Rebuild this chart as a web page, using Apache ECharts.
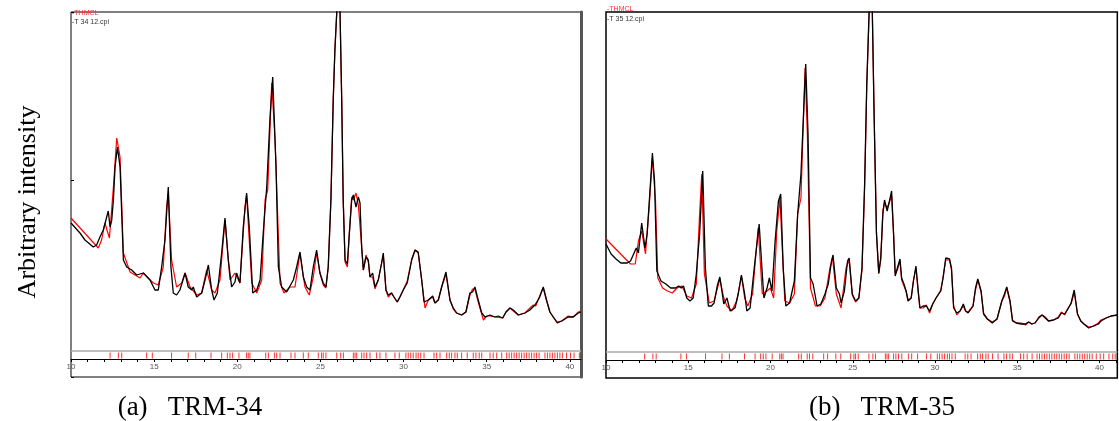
<!DOCTYPE html>
<html><head><meta charset="utf-8">
<script src="https://cdn.jsdelivr.net/npm/echarts@6/dist/echarts.min.js"></script>
<style>html,body{margin:0;padding:0;background:#fff}#c{width:1119px;height:421px}</style>
</head><body><div id="c"></div>
<script>
// 2theta (deg), arbitrary intensity
const obsA = [[10.00,154],[10.54,144],[10.84,137],[11.34,130],[11.54,132],[11.74,140],[11.94,147],[12.10,157],[12.24,166],[12.35,150],[12.45,157],[12.55,177],[12.65,210],[12.79,230],[12.95,210],[13.15,117],[13.35,110],[13.65,107],[13.95,102],[14.35,104],[14.75,97],[15.05,87],[15.25,87],[15.45,110],[15.65,137],[15.85,190],[16.01,110],[16.15,84],[16.35,82],[16.55,87],[16.86,104],[17.05,90],[17.26,87],[17.35,90],[17.56,80],[17.86,84],[18.06,97],[18.26,112],[18.46,87],[18.60,77],[18.80,84],[19.06,124],[19.26,159],[19.46,117],[19.66,90],[19.86,95],[19.96,104],[20.16,94],[20.36,150],[20.56,184],[20.72,150],[20.93,84],[21.17,87],[21.37,97],[21.56,144],[21.77,190],[21.97,260],[22.13,300],[22.33,210],[22.47,110],[22.67,90],[22.97,85],[23.37,97],[23.57,110],[23.77,125],[23.97,100],[24.17,90],[24.37,87],[24.57,110],[24.77,127],[24.97,104],[25.17,94],[25.33,90],[25.47,110],[25.63,177],[25.77,277],[25.87,327],[25.98,364],[26.07,420],[26.18,364],[26.28,277],[26.37,177],[26.48,117],[26.62,113],[26.74,144],[26.88,177],[26.98,182],[27.14,170],[27.28,180],[27.38,174],[27.48,130],[27.58,107],[27.74,120],[27.88,117],[27.98,100],[28.14,104],[28.28,90],[28.48,97],[28.68,114],[28.78,124],[28.94,87],[29.08,82],[29.28,84],[29.42,80],[29.62,75],[29.78,80],[29.98,87],[30.22,94],[30.49,117],[30.69,127],[30.88,125],[31.09,97],[31.23,75],[31.49,77],[31.75,81],[31.89,74],[32.09,77],[32.29,90],[32.55,105],[32.79,77],[32.99,69],[33.19,64],[33.49,62],[33.75,65],[33.99,84],[34.15,85],[34.29,90],[34.49,77],[34.70,64],[34.89,60],[35.20,62],[35.50,60],[35.69,61],[35.96,59],[36.16,65],[36.40,69],[36.60,67],[36.90,62],[37.30,64],[37.60,67],[37.90,72],[38.16,79],[38.40,90],[38.60,77],[38.80,65],[39.00,60],[39.24,54],[39.51,56],[39.90,60],[40.20,60],[40.51,64],[40.67,65]];
const calcA = [[10.00,159],[11.64,129],[11.84,137],[12.04,154],[12.31,139],[12.55,190],[12.75,239],[12.95,220],[13.15,124],[13.55,105],[14.15,99],[14.35,104],[14.95,94],[15.25,92],[15.55,110],[15.75,170],[15.85,184],[16.05,117],[16.35,90],[16.66,94],[16.86,104],[17.16,90],[17.56,82],[17.86,84],[18.16,107],[18.46,87],[18.66,84],[18.96,97],[19.26,157],[19.56,97],[19.86,104],[20.16,94],[20.46,170],[20.56,182],[20.87,94],[21.17,84],[21.47,97],[21.67,177],[21.83,187],[22.07,294],[22.27,237],[22.57,94],[22.81,84],[23.17,90],[23.47,90],[23.77,124],[24.07,90],[24.33,82],[24.57,100],[24.77,124],[24.97,104],[25.17,92],[25.33,89],[25.47,110],[25.63,177],[25.77,277],[25.87,327],[25.98,364],[26.07,425],[26.18,364],[26.28,277],[26.37,177],[26.48,115],[26.62,110],[26.74,144],[26.88,180],[26.98,177],[27.14,184],[27.28,172],[27.38,174],[27.48,130],[27.58,107],[27.74,122],[27.88,115],[27.98,100],[28.14,100],[28.28,88],[28.48,97],[28.68,114],[28.78,122],[28.94,87],[29.08,80],[29.28,84],[29.42,80],[29.62,75],[29.78,80],[29.98,87],[30.22,96],[30.49,118],[30.69,127],[30.88,124],[31.09,97],[31.29,69],[31.49,77],[31.75,80],[31.89,74],[32.09,77],[32.29,90],[32.55,103],[32.79,77],[32.99,68],[33.19,64],[33.49,62],[33.75,65],[33.99,82],[34.15,88],[34.29,88],[34.49,75],[34.80,57],[35.00,61],[35.20,61],[35.50,60],[35.96,59],[36.16,65],[36.40,69],[36.60,66],[36.90,62],[37.30,64],[37.60,69],[37.80,72],[37.95,71],[38.16,80],[38.40,89],[38.60,76],[38.80,65],[39.00,60],[39.24,55],[39.51,56],[39.90,61],[40.20,60],[40.51,65],[40.67,66]];
const obsB = [[10.00,134],[10.31,124],[10.61,119],[10.90,115],[11.29,115],[11.49,117],[11.68,124],[11.84,130],[11.97,125],[12.17,155],[12.37,130],[12.50,144],[12.66,184],[12.82,225],[12.95,197],[13.09,107],[13.34,97],[13.64,94],[13.93,90],[14.22,90],[14.42,92],[14.57,90],[14.71,92],[14.91,80],[15.10,77],[15.30,80],[15.49,104],[15.69,144],[15.88,207],[16.04,110],[16.22,72],[16.41,72],[16.57,75],[16.76,92],[16.92,101],[17.16,74],[17.35,80],[17.55,67],[17.84,70],[18.04,84],[18.23,103],[18.43,84],[18.56,67],[18.76,70],[19.01,110],[19.31,154],[19.50,104],[19.60,80],[19.79,90],[19.93,100],[20.09,87],[20.28,137],[20.48,177],[20.62,184],[20.77,110],[20.93,72],[21.16,75],[21.45,97],[21.65,164],[21.85,204],[22.04,277],[22.14,314],[22.28,244],[22.43,100],[22.59,94],[22.83,72],[23.06,74],[23.31,84],[23.51,94],[23.71,117],[23.80,123],[24.00,90],[24.19,84],[24.29,75],[24.49,87],[24.68,117],[24.78,120],[24.97,84],[25.17,77],[25.37,80],[25.56,110],[25.72,194],[25.85,294],[25.99,364],[26.09,430],[26.19,364],[26.30,260],[26.44,144],[26.58,105],[26.70,120],[26.83,164],[26.93,178],[27.09,167],[27.23,177],[27.36,187],[27.48,144],[27.58,102],[27.71,110],[27.87,119],[27.97,100],[28.11,94],[28.24,87],[28.36,77],[28.55,80],[28.69,97],[28.84,112],[28.98,87],[29.08,70],[29.28,72],[29.47,72],[29.67,67],[29.86,74],[30.06,80],[30.35,87],[30.49,100],[30.65,120],[30.88,119],[31.00,110],[31.13,70],[31.33,65],[31.52,67],[31.72,74],[31.86,67],[32.01,65],[32.31,72],[32.46,90],[32.60,99],[32.80,87],[32.95,64],[33.18,59],[33.48,55],[33.77,59],[34.06,77],[34.22,84],[34.36,91],[34.56,77],[34.71,57],[34.94,55],[35.24,54],[35.50,54],[35.69,56],[35.88,54],[36.08,55],[36.32,61],[36.51,63],[36.70,60],[36.90,57],[37.20,58],[37.49,60],[37.68,65],[37.88,64],[38.08,69],[38.27,75],[38.46,88],[38.66,64],[38.86,57],[39.05,54],[39.34,50],[39.64,52],[39.93,54],[40.09,57],[40.40,60],[40.70,62],[41.08,63]];
const calcB = [[10.00,139],[11.49,114],[11.78,114],[11.97,137],[12.17,147],[12.40,124],[12.62,170],[12.82,220],[13.01,177],[13.15,100],[13.44,90],[13.74,87],[14.03,85],[14.32,90],[14.61,92],[14.91,82],[15.20,80],[15.49,94],[15.69,164],[15.82,204],[15.98,104],[16.28,75],[16.57,77],[16.92,99],[17.16,80],[17.35,72],[17.64,67],[17.94,77],[18.23,102],[18.43,80],[18.62,72],[18.91,84],[19.11,124],[19.25,150],[19.50,84],[19.79,87],[19.99,90],[20.19,80],[20.38,147],[20.57,180],[20.87,77],[21.16,75],[21.45,84],[21.65,164],[21.85,180],[22.10,310],[22.24,244],[22.43,90],[22.73,72],[23.02,72],[23.31,80],[23.61,110],[23.77,120],[24.00,84],[24.29,70],[24.59,110],[24.78,118],[24.97,83],[25.17,76],[25.37,80],[25.56,108],[25.72,190],[25.85,290],[25.99,364],[26.09,428],[26.19,364],[26.30,262],[26.44,146],[26.58,104],[26.70,118],[26.83,168],[26.93,175],[27.09,170],[27.23,176],[27.36,182],[27.48,144],[27.58,104],[27.71,108],[27.87,117],[27.97,98],[28.11,92],[28.24,87],[28.36,78],[28.55,80],[28.69,98],[28.84,110],[28.98,85],[29.08,70],[29.28,70],[29.47,73],[29.67,65],[29.86,74],[30.06,80],[30.35,88],[30.49,101],[30.65,118],[30.88,118],[31.00,108],[31.13,72],[31.33,63],[31.52,67],[31.72,72],[31.86,67],[32.01,66],[32.31,72],[32.46,88],[32.60,98],[32.80,86],[32.95,65],[33.18,59],[33.48,56],[33.77,59],[34.06,77],[34.22,82],[34.36,90],[34.56,76],[34.71,58],[34.94,55],[35.24,55],[35.50,53],[35.69,56],[35.88,54],[36.08,55],[36.32,60],[36.51,63],[36.70,61],[36.90,57],[37.20,58],[37.49,61],[37.68,66],[37.88,63],[38.08,70],[38.27,74],[38.46,86],[38.66,64],[38.86,57],[39.05,54],[39.34,51],[39.64,52],[39.93,55],[40.09,58],[40.40,60],[40.70,62],[41.08,63]];
// Bragg reflection positions (2theta)
const reflections = [12.35,12.85,13.05,14.55,14.89,16.05,17.05,17.50,18.42,19.06,19.40,19.56,19.72,20.10,20.56,20.66,20.76,21.71,21.87,22.23,22.37,22.57,23.23,23.47,23.97,24.27,24.87,25.07,25.17,25.33,25.98,26.22,26.38,26.98,27.08,27.18,27.48,27.62,27.78,27.98,28.38,28.58,28.94,29.48,29.74,30.14,30.28,30.43,30.58,30.75,30.88,31.03,31.23,31.83,31.99,32.19,32.59,32.75,32.89,33.09,33.23,33.49,33.83,34.19,34.35,34.55,34.70,35.20,35.39,35.60,35.90,36.20,36.35,36.50,36.65,36.80,36.95,37.10,37.25,37.40,37.55,37.70,37.85,38.00,38.15,38.50,38.65,38.80,38.95,39.10,39.25,39.40,39.55,39.80,40.04,40.25,40.57,40.80,40.95];
const panelLabels = ['(a)   TRM-34', '(b)   TRM-35'];
const legendA = ['-THMCL', '-T 34 12.cpi'];
const legendB = ['-THMCL', '-T 35 12.cpi'];
const yTitle = 'Arbitrary intensity';

const TICK_LEVEL = 21.5, BASE_LINE = 26;
const chart = echarts.init(document.getElementById('c'));
function xAx(gi, max) {
  return {
    type: 'value', gridIndex: gi, min: 10, max: max, interval: 1, position: 'bottom', offset: -18,
    axisLine: {show: true, onZero: false, lineStyle: {color: '#000', width: 1}},
    axisTick: {show: true, length: 3, lineStyle: {color: '#000'}},
    axisLabel: {fontSize: 8, color: '#555', margin: 4, fontFamily: 'Liberation Sans',
      showMaxLabel: false, formatter: v => (Math.abs(v % 5) < 1e-6 ? String(v) : '')},
    splitLine: {show: false}
  };
}
function tickSeries(xi) {
  return {
    type: 'scatter', xAxisIndex: xi, yAxisIndex: xi === 0 ? 0 : 2, symbol: 'rect', symbolSize: [1, 6],
    data: reflections.map(t => [t, TICK_LEVEL]), itemStyle: {color: '#ff0000'}, silent: true, z: 1,
    markLine: {silent: true, symbol: 'none', label: {show: false},
      lineStyle: {color: '#aaaaaa', width: 1.5, type: 'solid'}, data: [{yAxis: BASE_LINE}]}
  };
}
function lineS(data, xi, yi, color, w, z) {
  return {type: 'line', xAxisIndex: xi, yAxisIndex: yi, data: data, showSymbol: false, symbol: 'none',
    lineStyle: {color: color, width: w}, z: z, clip: true};
}
const option = {
  animation: false,
  grid: [
    {left: 71, top: 12, width: 510, height: 365, show: true, borderColor: '#000', borderWidth: 1, containLabel: false},
    {left: 606, top: 12, width: 530, height: 366, show: true, borderColor: '#000', borderWidth: 1.5, containLabel: false}
  ],
  xAxis: [xAx(0, 40.67), xAx(1, 41.08)],
  yAxis: [
    {type: 'value', gridIndex: 0, min: 0, max: 365, interval: 197, axisLine: {show: false},
      axisTick: {show: true, inside: true, length: 3, lineStyle: {color: '#000'}}, axisLabel: {show: false}, splitLine: {show: false}},
    {type: 'value', gridIndex: 0, position: 'right', min: 0, max: 365, axisLine: {show: true, lineStyle: {color: '#555', width: 3}},
      axisTick: {show: false}, axisLabel: {show: false}, splitLine: {show: false}},
    {type: 'value', gridIndex: 1, min: 0, max: 366, axisLine: {show: false},
      axisTick: {show: false}, axisLabel: {show: false}, splitLine: {show: false}}
  ],
  series: [
    lineS(calcA, 0, 0, '#ff0000', 1.2, 2),
    lineS(obsA, 0, 0, '#000000', 1.3, 3),
    tickSeries(0),
    lineS(calcB, 1, 2, '#ff0000', 1.2, 2),
    lineS(obsB, 1, 2, '#000000', 1.3, 3),
    tickSeries(1)
  ],
  graphic: [
    {type: 'text', x: 72, y: 10, style: {text: legendA[0], fill: '#ff3030', font: '7px "Liberation Sans"'}},
    {type: 'text', x: 72, y: 19, style: {text: legendA[1], fill: '#333', font: '7px "Liberation Sans"'}},
    {type: 'text', x: 607, y: 6, style: {text: legendB[0], fill: '#ff3030', font: '7px "Liberation Sans"'}},
    {type: 'text', x: 607, y: 16, style: {text: legendB[1], fill: '#333', font: '7px "Liberation Sans"'}},
    {type: 'text', x: 28, y: 202, rotation: Math.PI / 2,
      style: {text: yTitle, fill: '#000', font: '26px "Liberation Serif"', align: 'center', verticalAlign: 'middle'}},
    {type: 'text', x: 190, y: 408, style: {text: panelLabels[0], fill: '#000', font: '27px "Liberation Serif"', align: 'center', verticalAlign: 'middle'}},
    {type: 'text', x: 882, y: 408, style: {text: panelLabels[1], fill: '#000', font: '27px "Liberation Serif"', align: 'center', verticalAlign: 'middle'}}
  ]
};
chart.setOption(option);
</script></body></html>
